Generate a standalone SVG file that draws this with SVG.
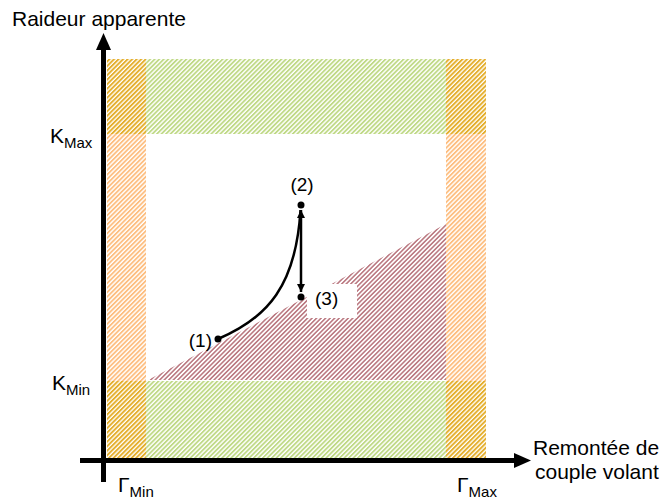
<svg xmlns="http://www.w3.org/2000/svg" width="665" height="502" viewBox="0 0 665 502">
<style>
text{font-family:"Liberation Sans",Arial,sans-serif;fill:#000}
.ax{font-size:21px}
.sub{font-size:15px}
.lbl{font-size:19px}
.axis{stroke:#000;stroke-width:5;fill:none}
.pt{fill:#000}
</style>
<defs>
<pattern id="pOr" width="3.2" height="3.2" patternUnits="userSpaceOnUse" patternTransform="rotate(45)"><rect width="1.8" height="3.2" fill="#FDBE80"/></pattern>
<pattern id="pGr" width="3.2" height="3.2" patternUnits="userSpaceOnUse" patternTransform="rotate(45)"><rect width="1.8" height="3.2" fill="#BFD986"/></pattern>
<pattern id="pGo" width="3.2" height="3.2" patternUnits="userSpaceOnUse" patternTransform="rotate(45)"><rect width="1.9" height="3.2" fill="#E4AE2C"/></pattern>
<pattern id="pRd" width="3.2" height="3.2" patternUnits="userSpaceOnUse" patternTransform="rotate(45)"><rect width="1.6" height="3.2" fill="#BC7C84"/></pattern>
<marker id="ah" viewBox="0 0 10 10" refX="10" refY="5" markerWidth="10" markerHeight="8" orient="auto-start-reverse" markerUnits="userSpaceOnUse"><path d="M0,0 L10,5 L0,10 z" fill="#000"/></marker>
</defs>

<g id="zones">
<rect x="146" y="59" width="300" height="75" fill="url(#pGr)"/>
<rect x="146" y="381" width="300" height="77" fill="url(#pGr)"/>
<rect x="107" y="134" width="39" height="247" fill="url(#pOr)"/>
<rect x="446" y="134" width="40" height="247" fill="url(#pOr)"/>
<rect x="107" y="59" width="39" height="75" fill="url(#pGo)"/>
<rect x="446" y="59" width="40" height="75" fill="url(#pGo)"/>
<rect x="107" y="381" width="39" height="77" fill="url(#pGo)"/>
<rect x="446" y="381" width="40" height="77" fill="url(#pGo)"/>
<polygon points="148,380 446,224 446,380" fill="url(#pRd)"/>
<rect x="307" y="284" width="50" height="34" fill="#fff"/>
</g>

<g id="axes">
<line class="axis" x1="103.5" y1="482" x2="103.5" y2="48"/>
<polygon points="103.5,33 96,50 111,50" fill="#000"/>
<line class="axis" x1="80" y1="460.5" x2="516" y2="460.5"/>
<polygon points="531,460.5 514,453 514,468" fill="#000"/>
</g>

<g id="connectors">
<path d="M218,339 C268,318 296,285 300.5,210" stroke="#000" stroke-width="2.5" fill="none"/>
<line x1="301" y1="210" x2="301" y2="292" stroke="#000" stroke-width="2.5" marker-start="url(#ah)" marker-end="url(#ah)"/>
</g>

<g id="p1"><circle class="pt" cx="218" cy="339" r="3.5"/><text class="lbl" x="212" y="347" text-anchor="end">(1)</text></g>
<g id="p2"><circle class="pt" cx="301" cy="205" r="3.5"/><text class="lbl" x="302" y="191" text-anchor="middle">(2)</text></g>
<g id="p3"><circle class="pt" cx="301" cy="297" r="3.5"/><text class="lbl" x="315" y="305">(3)</text></g>

<g id="labels">
<text class="ax" x="12" y="26">Raideur apparente</text>
<text class="ax" x="533" y="455">Remontée de</text>
<text class="ax" x="535" y="479">couple volant</text>
<text class="ax" x="50" y="143">K<tspan class="sub" dy="5">Max</tspan></text>
<text class="ax" x="52" y="390">K<tspan class="sub" dy="5">Min</tspan></text>
<text class="ax" x="118" y="492">Γ<tspan class="sub" dy="5">Min</tspan></text>
<text class="ax" x="457" y="492">Γ<tspan class="sub" dy="5">Max</tspan></text>
</g>
</svg>
